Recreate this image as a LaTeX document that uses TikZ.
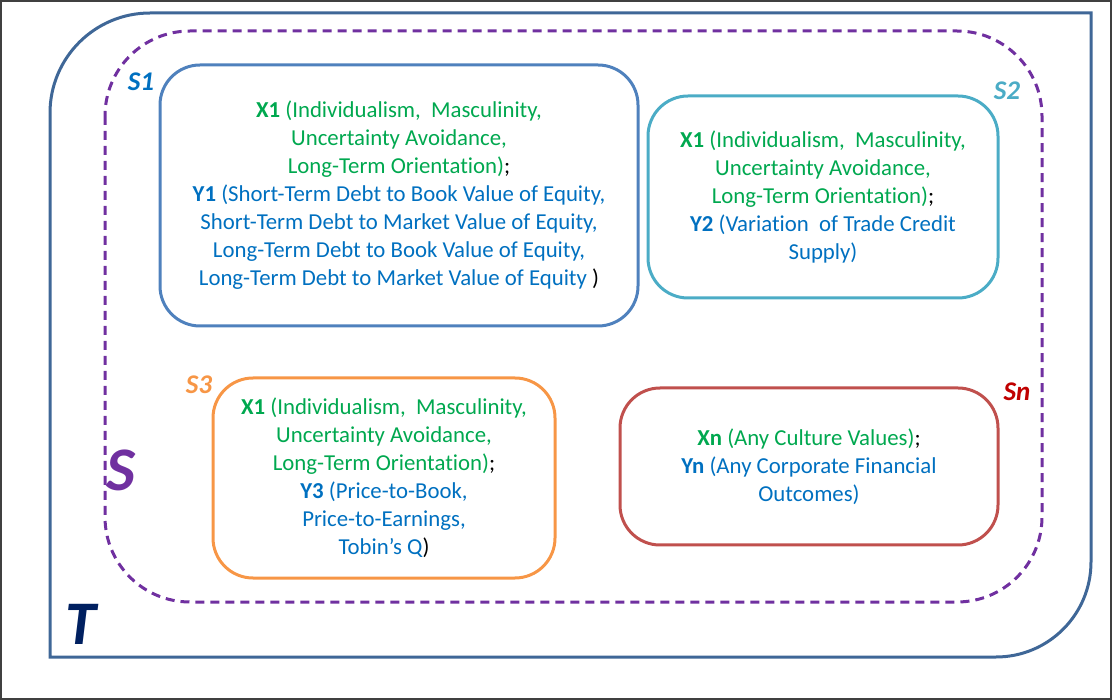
\documentclass[tikz,border=0pt]{standalone}
\usepackage{fontspec}
\setmainfont{Carlito}[Ligatures={NoCommon}]
\usetikzlibrary{positioning}
\definecolor{tcol}{HTML}{3F6797}
\definecolor{scol}{HTML}{7030A0}
\definecolor{sonecol}{HTML}{4F81BD}
\definecolor{stwocol}{HTML}{4BACC6}
\definecolor{sthreecol}{HTML}{F79646}
\definecolor{sncol}{HTML}{C0504D}
\definecolor{xgreen}{HTML}{00A84F}
\definecolor{yblue}{HTML}{0070C0}
\definecolor{snlab}{HTML}{C00000}
\definecolor{tlab}{HTML}{002060}
\newcommand{\xv}[1]{\textcolor{xgreen}{\textbf{#1}}}
\newcommand{\yv}[1]{\textcolor{yblue}{\textbf{#1}}}
\begin{document}
\begin{tikzpicture}[x=1pt, y=-1pt,
        sbox/.style={rectangle, rounded corners=40pt, line width=3pt, draw=#1, align=center,
            font=\fontsize{22.8}{28}\selectfont},
        slabel/.style={font=\fontsize{27}{27}\selectfont\bfseries\itshape},
        biglabel/.style={font=\fontsize{62}{62}\selectfont\bfseries\itshape}
    ]
    \useasboundingbox (0,0) rectangle (1112,700);
    \draw[line width=2pt, black!75] (1,1) rectangle (1111,699);
    % set T
    \draw[line width=3pt, tcol] (50,657) -- (50,113) arc[start angle=180, end angle=270, radius=100]
        -- (1091,13) -- (1091,562) arc[start angle=0, end angle=90, radius=95] -- cycle;
    % set S
    \draw[line width=3pt, scol, dash pattern=on 9pt off 6pt, rounded corners=85pt] (105,31) rectangle (1042,602);
    % subsets
    \node[sbox=sonecol, minimum width=478pt, minimum height=261pt] (s1) at (399,195.5) {%
        \color{xgreen}\xv{X1} (Individualism,\ \ Masculinity,\\
        \color{xgreen}Uncertainty Avoidance,\\
        \color{xgreen}Long-Term Orientation)\textcolor{black}{;}\\
        \color{yblue}\yv{Y1} (Short-Term Debt to Book Value of Equity,\\
        \color{yblue}Short-Term Debt to Market Value of Equity,\\
        \color{yblue}Long-Term Debt to Book Value of Equity,\\
        \color{yblue}Long-Term Debt to Market Value of Equity \textcolor{black}{)}};
    \node[sbox=stwocol, minimum width=350pt, minimum height=202pt] (s2) at (823,197) {%
        \color{xgreen}\xv{X1} (Individualism,\ \ Masculinity,\\
        \color{xgreen}Uncertainty Avoidance,\\
        \color{xgreen}Long-Term Orientation)\textcolor{black}{;}\\
        \color{yblue}\yv{Y2} (Variation\ \ of Trade Credit\\
        \color{yblue}Supply)};
    \node[sbox=sthreecol, minimum width=342pt, minimum height=200pt] (s3) at (384,478) {%
        \color{xgreen}\xv{X1} (Individualism,\ \ Masculinity,\\
        \color{xgreen}Uncertainty Avoidance,\\
        \color{xgreen}Long-Term Orientation)\textcolor{black}{;}\\
        \color{yblue}\yv{Y3} (Price-to-Book,\\
        \color{yblue}Price-to-Earnings,\\
        \color{yblue}Tobin’s Q\textcolor{black}{)}};
    \node[sbox=sncol, minimum width=378pt, minimum height=157pt] (sn) at (809,466.5) {%
        \color{xgreen}\xv{Xn} (Any Culture Values)\textcolor{black}{;}\\
        \color{yblue}\yv{Yn} (Any Corporate Financial\\
        \color{yblue}Outcomes)};
    % labels
    \node[slabel, text=yblue] (s1lbl) at (141,82) {S1};
    \node[slabel, text=stwocol] (s2lbl) at (1007,91) {S2};
    \node[slabel, text=sthreecol] (s3lbl) at (199,385) {S3};
    \node[slabel, text=snlab] (snlbl) at (1017,392) {Sn};
    \node[biglabel, text=scol] (slbl) at (121,470) {S};
    \node[biglabel, text=tlab] (tlbl) at (81,624) {T};
\end{tikzpicture}
\end{document}
